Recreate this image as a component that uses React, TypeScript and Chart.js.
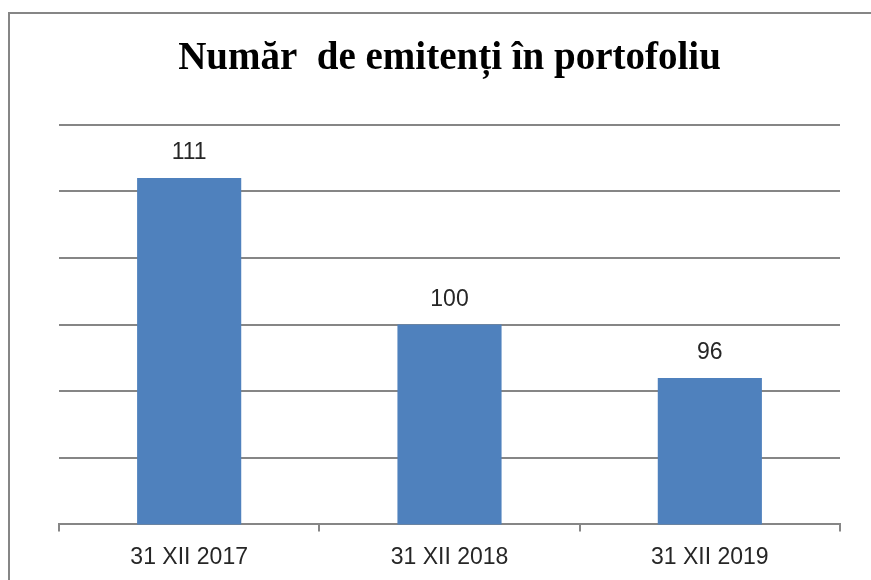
import React, { useEffect, useRef } from "react";
import { Chart, registerables } from "chart.js";

Chart.register(...registerables);

const categories = ["31 XII 2017", "31 XII 2018", "31 XII 2019"];
const issuerCounts = [111, 100, 96];
const yTicks = [85, 90, 95, 100, 105, 110, 115];
const titleText = "Număr  de emitenți în portofoliu";

export default function App() {
  const ref = useRef<HTMLCanvasElement>(null);

  useEffect(() => {
    const valueLabels = {
      id: "valueLabels",
      afterDatasetsDraw(chart: any) {
        const ctx = chart.ctx;
        const meta = chart.getDatasetMeta(0);
        ctx.save();
        ctx.font = "23px 'Liberation Sans'";
        ctx.fillStyle = "#262626";
        ctx.textAlign = "center";
        ctx.textBaseline = "middle";
        meta.data.forEach((bar: any, i: number) => {
          ctx.fillText(String(issuerCounts[i]), bar.x, bar.y - 25);
        });
        ctx.restore();
      },
    };

    const chart = new Chart(ref.current as HTMLCanvasElement, {
      type: "bar",
      data: {
        labels: categories,
        datasets: [
          {
            data: issuerCounts,
            backgroundColor: "#4F81BD",
            categoryPercentage: 1,
            barPercentage: 0.4,
          },
        ],
      },
      options: {
        animation: false,
        responsive: false,
        layout: { padding: { left: 59, right: 31, top: 20, bottom: 0 } },
        plugins: {
          legend: { display: false },
          tooltip: { enabled: false },
          title: {
            display: true,
            text: titleText,
            font: { family: "'Liberation Serif'", size: 39, weight: "bold" },
            color: "#000",
            padding: { top: 16, bottom: 42 },
          },
        },
        scales: {
          x: {
            grid: {
              drawOnChartArea: false,
              drawTicks: true,
              tickLength: 7,
              color: "#868686",
              lineWidth: 2,
            },
            border: { color: "#868686", width: 2 },
            ticks: {
              font: { family: "'Liberation Sans'", size: 23 },
              color: "#262626",
              padding: 12,
            },
          },
          y: {
            min: 85,
            max: 115,
            afterBuildTicks: (axis: any) => {
              axis.ticks = yTicks.map((v) => ({ value: v }));
            },
            ticks: { display: false },
            grid: { color: "#868686", lineWidth: 2, drawTicks: false },
            border: { display: false },
          },
        },
      },
      plugins: [valueLabels],
    });
    return () => chart.destroy();
  }, []);

  return (
    <div
      style={{
        position: "fixed",
        left: 0,
        top: 0,
        width: 871,
        height: 580,
        overflow: "hidden",
        background: "#fff",
      }}
    >
      <div
        style={{
          position: "absolute",
          left: 8,
          top: 12,
          width: 900,
          height: 620,
          border: "2px solid #868686",
        }}
      />
      <canvas
        ref={ref}
        width={871}
        height={583}
        style={{ position: "absolute", left: 0, top: 0 }}
      />
    </div>
  );
}
